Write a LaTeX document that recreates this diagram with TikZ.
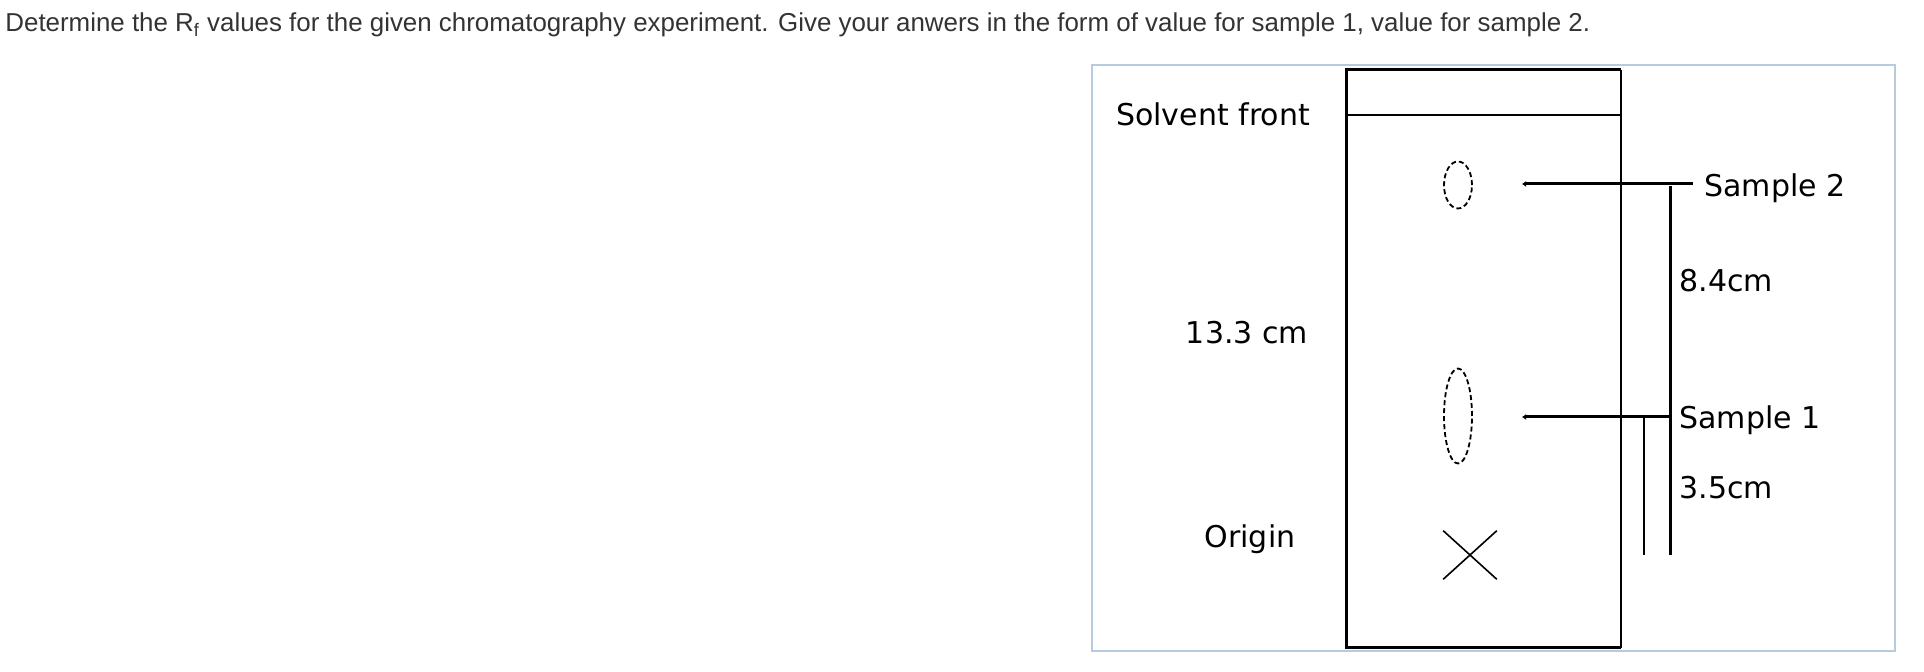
\documentclass[tikz,border=0pt]{standalone}
\usepackage{fontspec}
\setmainfont{Liberation Sans}
\newfontfamily\platefont{DejaVu Sans}
\usetikzlibrary{arrows.meta,shapes.geometric,shapes.misc}
\definecolor{framegray}{RGB}{184,202,222}
\definecolor{textgray}{RGB}{51,51,51}
\begin{document}
\begin{tikzpicture}[x=0.5pt,y=-0.5pt,
    lbl/.style={font=\platefont\fontsize{15}{18}\selectfont, inner sep=0pt},
    spot/.style={ellipse, draw, dash pattern=on 2.5pt off 1.5pt, line width=0.9pt, inner sep=0pt, minimum width=14pt},
    pointer/.style={line width=1.5pt, -{Latex[length=2pt,width=3pt]}}]
    \useasboundingbox (0,0) rectangle (1924,672);
    \node[anchor=base west, inner sep=0pt, text=textgray, font=\fontsize{12.95}{15}\selectfont] (question) at (5,32) {Determine the R\textsubscript{f} values for the given chromatography experiment. Give your anwers in the form of value for sample 1, value for sample 2.};
    \draw[framegray, line width=1pt] (1092,65) rectangle (1895,651);
    \draw[line width=1.5pt] (1621,70) -- (1346,70) -- (1346,648) -- (1621,648);
    \draw[line width=1pt] (1621,70) -- (1621,648);
    \draw[line width=1pt] (1346,115) -- (1621,115);
    \node[spot, minimum height=23.5pt] (spot2) at (1458,185) {};
    \node[spot, minimum height=47.5pt] (spot1) at (1458,416) {};
    \node[cross out, draw, line width=0.8pt, inner sep=0pt, minimum width=26pt, minimum height=23.5pt] (start) at (1470,555) {};
    \node[lbl] (front) at (1213,114) {Solvent front};
    \node[lbl] (total) at (1247,333) {13.3 cm};
    \node[lbl] (origin) at (1250,539) {Origin};
    \node[lbl, anchor=west, inner xsep=5.5pt] (s2) at (1693,188) {Sample 2};
    \node[lbl, anchor=west, inner xsep=4.5pt] (s1) at (1670,420) {Sample 1};
    \node[lbl, anchor=west] (d2) at (1679,281) {8.4cm};
    \node[lbl, anchor=west] (d1) at (1679,488) {3.5cm};
    \coordinate (tip2) at (1522,184);
    \coordinate (tip1) at (1522,417);
    \coordinate (top2) at (1670,186);
    \coordinate (foot2) at (1670,555);
    \coordinate (top1) at (1644,417);
    \coordinate (foot1) at (1644,555);
    \draw[pointer] (s2.west |- tip2) -- (tip2);
    \draw[pointer] (s1.west |- tip1) -- (tip1);
    \draw[line width=1.5pt] (top2) -- (foot2);
    \draw[line width=1pt] (top1) -- (foot1);
\end{tikzpicture}
\end{document}
